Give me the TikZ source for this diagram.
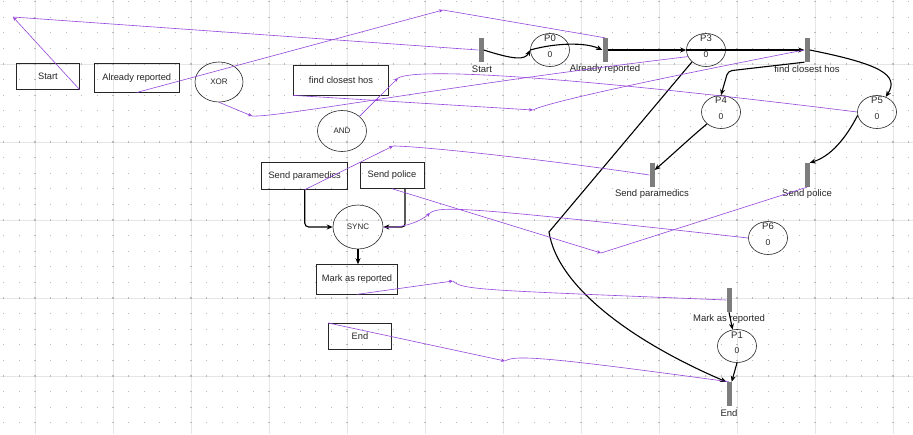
\documentclass[tikz,border=0pt]{standalone}
\usepackage{fontspec}
\setmainfont{Liberation Sans}
\usetikzlibrary{arrows.meta,shapes.geometric,calc}
\definecolor{linkc}{RGB}{150,70,220}
\definecolor{trg}{RGB}{125,125,125}
\definecolor{dotc}{RGB}{185,185,185}
\definecolor{majc}{RGB}{230,230,230}
\begin{document}
\begin{tikzpicture}[x=1pt,y=-1pt,
  box/.style={draw=black!85, line width=0.8pt, rectangle, inner sep=0pt, font=\fontsize{9.3}{11}\selectfont, text=black!85},
  gate/.style={draw=black!85, line width=0.6pt, ellipse, inner sep=0pt, font=\fontsize{8}{10}\selectfont, text=black!85},
  trans/.style={fill=trg, rectangle, minimum width=5pt, minimum height=24pt, inner sep=0pt},
  place/.style={draw=black!85, line width=0.6pt, ellipse, minimum width=39pt, minimum height=33pt, inner sep=0pt},
  lbl/.style={font=\fontsize{9.5}{11}\selectfont, text=black!85, inner sep=0pt},
  val/.style={font=\fontsize{8.5}{10}\selectfont, text=black!85, inner sep=0pt},
  arc/.style={draw=black, line width=1.1pt, -{Stealth[length=6pt,width=5pt]}},
  linkline/.style={draw=linkc, line width=0.6pt},
  linkarrow/.style={draw=linkc, line width=0.6pt, -{Stealth[length=4pt,width=3.5pt]}}
]
\useasboundingbox (0,0) rectangle (913,434);
\fill[white] (0,0) rectangle (913,434);
% grid
\foreach \i in {0,...,11} \draw[majc, line width=0.5pt] ({35+78*\i},0) -- ({35+78*\i},434);
\foreach \j in {0,...,4} \draw[majc, line width=0.5pt] (0,{64+78*\j}) -- (913,{64+78*\j});
\foreach \i in {-2,...,56} \foreach \j in {-4,...,23}
  \fill[dotc] ({35+15.6*\i-0.6},{64+15.6*\j-0.6}) rectangle +(1.2,1.2);

% left side elements
\node[box, minimum width=62.6pt, minimum height=26pt] (bStart) at (48,76.3) {Start};
\node[box, minimum width=85pt, minimum height=28.7pt] (bAR) at (136.8,77.7) {Already reported};
\node[gate, minimum width=48pt, minimum height=40pt] (gXOR) at (219,82) {XOR};
\node[box, minimum width=95.4pt, minimum height=29.3pt] (bFCH) at (341,80.3) {find closest hos};
\node[gate, minimum width=49pt, minimum height=41pt] (gAND) at (342,131) {AND};
\node[box, minimum width=86pt, minimum height=27pt] (bSP) at (304.7,175.8) {Send paramedics};
\node[box, minimum width=64pt, minimum height=26pt] (bSPol) at (392,175.3) {Send police};
\node[gate, minimum width=50pt, minimum height=44pt] (gSYNC) at (358,227) {SYNC};
\node[box, minimum width=80.6pt, minimum height=29.3pt] (bMR) at (357,279.3) {Mark as reported};
\node[box, minimum width=63.4pt, minimum height=26pt] (bEnd) at (360,336.3) {End};

% petri net transitions
\node[trans] (tStart) at (481,50) {};
\node[trans] (tAR) at (605,50) {};
\node[trans] (tFCH) at (807,50) {};
\node[trans] (tSP) at (652,175) {};
\node[trans] (tSPol) at (807,175) {};
\node[trans] (tMR) at (729,300) {};
\node[trans] (tEnd) at (729,394) {};
\node[lbl] (lStart) at (482,69) {Start};
\node[lbl] (lAR) at (605,69) {Already reported};
\node[lbl] (lFCH) at (807,69) {find closest hos};
\node[lbl] (lSP) at (652,194) {Send paramedics};
\node[lbl] (lSPol) at (807,194) {Send police};
\node[lbl] (lMR) at (729,319) {Mark as reported};
\node[lbl] (lEnd) at (729,413) {End};

% places
\node[place] (P0) at (550,50) {};
\node[place] (P3) at (706,50) {};
\node[place] (P4) at (721,112) {};
\node[place] (P5) at (877,112) {};
\node[place] (P6) at (768,238) {};
\node[place] (P1) at (737,346) {};
\node[lbl] (P0n) at (550,38.5) {P0}; \node[val] (P0v) at (550,54.5) {0};
\node[lbl] (P3n) at (706,38.5) {P3}; \node[val] (P3v) at (706,54.5) {0};
\node[lbl] (P4n) at (721,100.5) {P4}; \node[val] (P4v) at (721,116.5) {0};
\node[lbl] (P5n) at (877,100.5) {P5}; \node[val] (P5v) at (877,116.5) {0};
\node[lbl] (P6n) at (768,226.5) {P6}; \node[val] (P6v) at (768,242.5) {0};
\node[lbl] (P1n) at (737,335.5) {P1}; \node[val] (P1v) at (737,351) {0};

% left black arrows
\draw[arc, rounded corners=4pt] (bSP.south) |- (gSYNC.west);
\draw[arc, rounded corners=3pt] ([xshift=13pt]bSPol.south) |- (gSYNC.east);
\draw[arc] (gSYNC.south) -- (gSYNC.south |- bMR.north);

% petri arcs
\draw[arc] (tStart.east) .. controls (515,60) and (525,60) .. (P0.west);
\draw[arc] (P0.west) .. controls (555,43) and (585,42) .. (tAR.west);
\draw[arc] (tAR.east) -- (P3.west);
\draw[arc] (P3.west) -- (tFCH.west);
\draw[arc, rounded corners=4pt] (tFCH.south west) -- (728,71) -- (P4.north);
\draw[arc] (tFCH.east) .. controls (880,64) and (900,75) .. (P5.60);
\draw[arc] (P4.south west) .. controls (690,138) and (672,155) .. ([yshift=5pt]tSP.east);
\draw[arc] (P5.190) .. controls (850,130) and (835,155) .. (tSPol.north east);
\draw[arc] (P3.south west) -- (549,232) .. controls (558,290) and (640,345) .. (tEnd.north west);
\draw[arc] (tMR.south) -- (P1.105);
\draw[arc] (P1.south) -- (tEnd.north east);

% purple mapping links
\coordinate (m1) at (13,17);
\coordinate (m2) at (443,10);
\coordinate (m3) at (252,116);
\coordinate (m4) at (533,110);
\coordinate (m5) at (398,78);
\coordinate (m6) at (393,146);
\coordinate (m7) at (601,253);
\coordinate (m8) at (430,213);
\coordinate (m9) at (453,281);
\coordinate (m10) at (505,361);
\draw[linkarrow] (bStart.south east) -- (m1);
\draw[linkline] (m1) -- (tStart.west);
\draw[linkarrow] (bAR.south) -- (m2);
\draw[linkline] (m2) -- (tAR.north);
\draw[linkarrow] (gXOR.south) -- (m3);
\draw[linkline] (m3) .. controls (275,118) and (450,85) .. (P3.200);
\draw[linkarrow] (bFCH.south west) -- (m4);
\draw[linkline] (m4) .. controls (545,103) and (650,80) .. (tFCH.west);
\draw[linkarrow] (gAND.north east) -- (m5);
\draw[linkline] (m5) .. controls (420,66) and (600,80) .. (P5.west);
\draw[linkarrow] (bSP.south) -- (m6);
\draw[linkline] (m6) .. controls (420,146) and (550,160) .. (tSP.west);
\draw[linkarrow] (bSPol.south) -- (m7);
\draw[linkline] (m7) -- (tSPol.south);
\draw[linkarrow] (gSYNC.east) .. controls (400,229) and (420,222) .. (m8);
\draw[linkline] (m8) .. controls (440,206) and (460,206) .. (P6.west);
\draw[linkarrow] (bMR.south) -- (m9);
\draw[linkline] (m9) .. controls (462,290) and (480,290) .. (tMR.west);
\draw[linkarrow] (bEnd.north west) -- (m10);
\draw[linkline] (m10) .. controls (515,355) and (540,356) .. (tEnd.north);
\end{tikzpicture}
\end{document}
